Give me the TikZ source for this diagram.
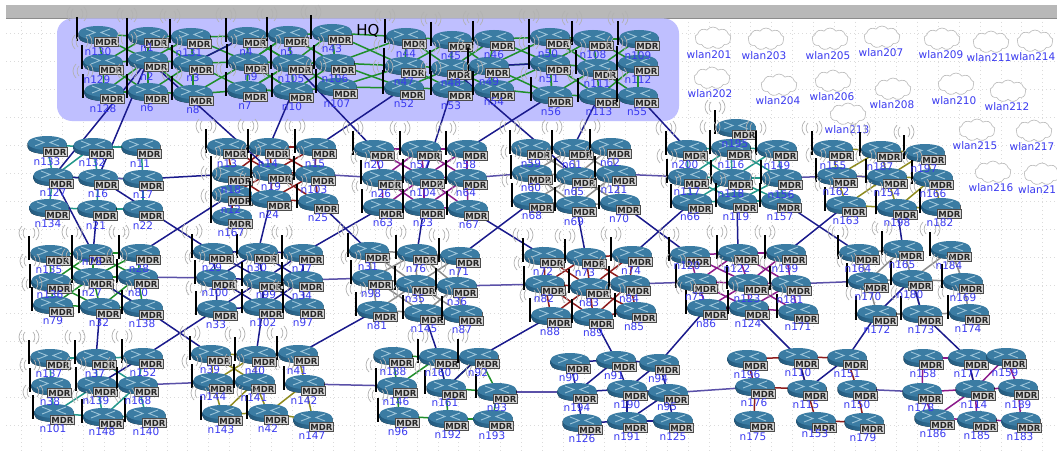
\documentclass[tikz,border=0pt]{standalone}
\usepackage{fontspec}
\setmainfont{DejaVu Sans}
\usetikzlibrary{shapes.symbols}
\pgfdeclarelayer{base}\pgfdeclarelayer{links}\pgfdeclarelayer{labels}
\pgfsetlayers{base,links,main,labels}
\definecolor{rtop}{HTML}{3B7CA3}
\definecolor{rleft}{HTML}{245A7E}
\definecolor{rright}{HTML}{3F86AC}
\definecolor{rglyph}{HTML}{9CC4D8}
\definecolor{cGreen}{HTML}{1F8F2A}
\definecolor{cTeal}{HTML}{23988A}
\definecolor{cRed}{HTML}{8E1C1C}
\definecolor{cPurple}{HTML}{8B1A8B}
\definecolor{cGray}{HTML}{8C8C8C}
\definecolor{cOlive}{HTML}{8E8A1E}
\definecolor{cNavy}{HTML}{1A1A8C}
\definecolor{cBack}{HTML}{5A50A8}
\definecolor{lblue}{HTML}{3A3AF0}
\tikzset{
  x=1pt,y=-1pt,
  hit/.style={inner sep=0pt,minimum width=30pt,minimum height=10pt},
  mdrbox/.style={draw=black!70,line width=.5pt,fill=black!17,inner sep=0pt,minimum width=24pt,minimum height=9pt,font=\fontsize{8.5}{8.5}\selectfont\bfseries,text=black!85},
  nlabel/.style={inner sep=0pt,text=lblue,font=\fontsize{10.5}{10.5}\selectfont},
  lk/.style={draw=#1,line width=1.5pt},
  wl/.style={cloud,cloud puffs=9,cloud puff arc=110,aspect=1.6,draw=black!28,fill=white,line width=.6pt,inner sep=0pt,minimum width=36pt,minimum height=22pt},
}
\newcommand\ricon[2]{\begin{scope}[shift={(#1,#2)}]
    \fill[left color=rleft,right color=rright] (-19.5,-2) -- (-19.5,2) .. controls (-19.5,11.3) and (19.5,11.3) .. (19.5,2) -- (19.5,-2) -- cycle;
    \fill[rtop] (0,-2) ellipse [x radius=19.5pt,y radius=7pt];
    \draw[rglyph,line width=.9pt] (-12,-6) -- (-3,-2.5) -- (-12,1) (12,-6) -- (3,-2.5) -- (12,1);
\end{scope}}
\newcommand\rmast[2]{\begin{scope}[shift={(#1,#2)}]
    \draw[black!30,line width=.7pt] (-4,-1) .. controls (-6.5,-3.5) and (-6.5,-8.5) .. (-4,-11)
      (-7,1) .. controls (-11,-3) and (-11,-9) .. (-7,-13)
      (4,-1) .. controls (6.5,-3.5) and (6.5,-8.5) .. (4,-11)
      (7,1) .. controls (11,-3) and (11,-9) .. (7,-13);
    \draw[black,line width=2.4pt] (0,-3) -- (0,21);
\end{scope}}
\newcommand\R[5]{%
  \ricon{#2}{#3}
  \node[hit] (#1) at (#2,#3) {};
  \node[mdrbox] (#1m) at (#2+8.5,#3+7) {MDR};
  \begin{pgfonlayer}{labels}\node[nlabel] (#1l) at (#4,#5) {#1};\end{pgfonlayer}
}
\newcommand\A[5]{%
  \rmast{#2-21}{#3-15}
  \R{#1}{#2}{#3}{#4}{#5}
}
\newcommand\W[5]{%
  \node[wl] (#1) at (#2,#3) {};
  \node[nlabel] (#1l) at (#4,#5) {#1};
}
\newcommand\G[1]{\def\lkc{#1}\Gx}
\newcommand\Gx[9]{\foreach \pa/\pb in {#1/#2,#2/#3,#4/#5,#5/#6,#7/#8,#8/#9,#1/#4,#4/#7,#2/#5,#5/#8,#3/#6,#6/#9,#1/#5,#2/#4,#2/#6,#3/#5,#4/#8,#5/#7,#5/#9,#6/#8}{\draw[lk=\lkc] (\pa) -- (\pb);}}
\newcommand\Lk[2]{\foreach \pa/\pb in {#2}{\draw[lk=#1] (\pa) -- (\pb);}}
\begin{document}
\begin{tikzpicture}
\useasboundingbox (0,0) rectangle (1057,452);
\begin{pgfonlayer}{base}
  \fill[white] (0,0) rectangle (1057,452);
  \foreach \k in {0.5,1,...,25}{\draw[black!14,line width=.5pt,dash pattern=on 1pt off 3pt] (41.7*\k,18) -- (41.7*\k,452);}
  \foreach \k in {0,...,15}{\draw[black!14,line width=.5pt,dash pattern=on 1pt off 3pt] (6,33+28*\k) -- (1057,33+28*\k);}
  \fill[black!28] (6,5) rectangle (1057,18);
  \draw[black!45,line width=.7pt] (6,18) -- (1057,18);
  \fill[blue!25!white,rounded corners=15pt] (57,18.5) rectangle (679,121);
\end{pgfonlayer}
\node[inner sep=0pt,text=black,font=\fontsize{15}{15}\selectfont] (hq) at (368,31) {HQ};
% clouds
\W{wlan201}{713}{38}{709}{55}
\W{wlan203}{766}{39}{764}{56}
\W{wlan205}{830}{39}{828}{56}
\W{wlan207}{882}{37}{881}{53}
\W{wlan209}{942}{39}{941}{55}
\W{wlan211}{991}{42}{989}{58}
\W{wlan214}{1035}{41}{1033}{57}
\W{wlan202}{712}{78}{710}{94}
\W{wlan204}{779}{85}{778}{101}
\W{wlan206}{833}{81}{832}{97}
\W{wlan208}{893}{89}{892}{105}
\W{wlan210}{956}{84}{954}{101}
\W{wlan212}{1008}{91}{1007}{107}
\W{wlan213}{848}{114}{847}{130}
\W{wlan215}{977}{130}{975}{146}
\W{wlan217}{1034}{131}{1032}{147}
\W{wlan216}{993}{172}{991}{188}
\node[wl] (wlan218) at (1042,174) {};
\node[nlabel,anchor=west] (wlan218l) at (1018,190) {wlan21};
% HQ
\A{n130}{98}{35}{98}{52}\A{n1}{148}{36}{147}{48}\A{n131}{191}{37}{189}{53}\A{n4}{247}{36}{246}{52}\A{n5}{288}{35}{287}{52}\A{n43}{332}{33}{332}{49}
\A{n44}{406}{37}{406}{54}\A{n45}{452}{40}{451}{56}\A{n46}{494}{39}{494}{55}\A{n50}{550}{37}{548}{54}\A{n108}{593}{39}{593}{55}\A{n109}{639}{39}{638}{56}
\A{n129}{103}{63}{97}{80}\A{n2}{148}{60}{147}{77}\A{n3}{193}{63}{193}{78}\A{n9}{248}{62}{251}{77}\A{n105}{292}{63}{291}{79}\A{n106}{335}{63}{335}{79}
\A{n47}{405}{66}{404}{82}\A{n48}{451}{68}{451}{83}\A{n49}{489}{66}{489}{82}\A{n51}{550}{63}{549}{79}\A{n111}{597}{68}{597}{84}\A{n112}{638}{64}{638}{80}
\A{n128}{104}{92}{103}{109}\A{n6}{148}{92}{147}{108}\A{n8}{193}{94}{193}{110}\A{n7}{247}{90}{245}{106}\A{n10}{293}{91}{292}{107}\A{n107}{337}{87}{337}{104}
\A{n52}{404}{88}{404}{104}\A{n53}{452}{89}{451}{106}\A{n54}{494}{89}{494}{102}\A{n56}{552}{95}{551}{112}\A{n113}{599}{96}{599}{112}\A{n55}{638}{96}{637}{112}
% row 2
\R{n133}{47}{145}{47}{162}\R{n132}{93}{147}{92}{163}\R{n11}{141}{147}{140}{164}
\R{n127}{53}{177}{53}{193}\R{n16}{98}{178}{98}{194}\R{n17}{143}{179}{143}{195}
\R{n134}{49}{208}{48}{224}\R{n21}{97}{209}{96}{226}\R{n22}{143}{209}{143}{226}
\A{n13}{227}{147}{227}{164}\A{n14}{269}{147}{268}{164}\A{n15}{316}{147}{315}{164}
\A{n18}{232}{174}{231}{190}\A{n19}{272}{172}{271}{187}\A{n103}{315}{174}{314}{190}
\A{n12}{232}{194}{231}{210}\A{n24}{271}{199}{269}{215}\A{n25}{318}{202}{318}{218}
\A{n167}{232}{217}{231}{233}
\A{n20}{374}{149}{374}{165}\A{n57}{421}{149}{420}{165}\A{n58}{467}{149}{466}{165}
\A{n26}{382}{178}{381}{194}\A{n104}{424}{177}{423}{193}\A{n64}{467}{178}{466}{193}
\A{n63}{383}{207}{383}{223}\A{n23}{424}{207}{423}{223}\A{n67}{468}{209}{469}{225}
\A{n59}{531}{148}{531}{164}\A{n61}{573}{148}{572}{165}\A{n62}{611}{147}{610}{163}
\A{n60}{532}{173}{531}{188}\A{n65}{576}{176}{574}{192}\A{n121}{616}{174}{614}{190}
\A{n68}{533}{201}{532}{216}\A{n69}{576}{205}{574}{222}\A{n70}{620}{203}{619}{219}
\A{n200}{687}{149}{685}{165}\A{n195}{736}{128}{735}{144}\A{n116}{731}{148}{731}{165}\A{n149}{777}{149}{777}{166}
\A{n117}{688}{177}{687}{192}\A{n118}{732}{178}{731}{194}\A{n156}{782}{178}{781}{195}
\A{n66}{692}{202}{690}{217}\A{n119}{737}{201}{736}{217}\A{n157}{781}{201}{780}{217}
\A{n155}{833}{149}{833}{166}\A{n187}{881}{150}{880}{167}\A{n197}{925}{153}{924}{169}
\A{n162}{837}{176}{836}{192}\A{n154}{887}{177}{887}{193}\A{n166}{933}{178}{933}{194}
\A{n163}{846}{205}{846}{221}\A{n198}{897}{208}{897}{223}\A{n182}{941}{207}{940}{223}
% row 3
\A{n135}{50}{254}{49}{270}\A{n78}{93}{253}{92}{262}\A{n28}{140}{253}{139}{269}
\A{n136}{51}{282}{50}{295}\A{n27}{93}{277}{92}{293}\A{n80}{138}{277}{138}{293}
\A{n79}{53}{305}{53}{321}\A{n32}{100}{307}{99}{323}\A{n138}{143}{308}{142}{324}
\A{n29}{213}{252}{212}{268}\A{n30}{258}{252}{257}{268}\A{n77}{303}{253}{302}{269}
\A{n100}{216}{278}{215}{293}\A{n99}{263}{280}{266}{295}\A{n34}{303}{280}{302}{296}
\A{n33}{217}{309}{216}{325}\A{n102}{263}{307}{263}{323}\A{n97}{304}{307}{303}{323}
\A{n31}{369}{251}{368}{267}\A{n76}{417}{253}{416}{269}\A{n71}{460}{256}{459}{272}
\A{n98}{372}{278}{371}{294}\A{n35}{416}{284}{415}{299}\A{n36}{457}{286}{457}{302}
\A{n81}{377}{310}{377}{326}\A{n145}{424}{313}{424}{329}\A{n87}{463}{314}{462}{330}
\A{n72}{544}{256}{543}{272}\A{n73}{586}{257}{585}{273}\A{n74}{632}{255}{631}{271}
\A{n82}{545}{284}{544}{299}\A{n83}{590}{287}{589}{303}\A{n84}{630}{284}{629}{299}
\A{n88}{551}{316}{550}{332}\A{n89}{593}{317}{593}{333}\A{n85}{636}{311}{634}{327}
\A{n120}{690}{255}{687}{266}\A{n122}{738}{253}{737}{269}\A{n199}{786}{253}{785}{269}
\A{n75}{697}{282}{695}{297}\A{n123}{748}{283}{747}{299}\A{n181}{791}{284}{790}{300}
\A{n86}{707}{308}{706}{324}\A{n124}{749}{308}{748}{324}\A{n171}{798}{312}{798}{327}
\A{n164}{859}{253}{858}{269}\A{n165}{903}{249}{902}{265}\A{n184}{951}{250}{949}{266}
\A{n170}{868}{281}{868}{297}\A{n180}{912}{279}{910}{295}\A{n169}{963}{282}{963}{298}
\A{n172}{877}{314}{877}{330}\A{n173}{922}{314}{921}{330}\A{n174}{969}{313}{968}{329}
% row 4
\A{n137}{50}{358}{49}{374}\A{n37}{96}{358}{95}{374}\A{n152}{143}{357}{143}{373}
\A{n38}{51}{386}{50}{402}\A{n139}{97}{385}{96}{401}\A{n168}{138}{385}{138}{401}
\A{n101}{54}{413}{53}{429}\A{n148}{103}{417}{102}{432}\A{n140}{146}{416}{146}{432}
\A{n39}{211}{354}{210}{370}\A{n40}{256}{355}{255}{371}\A{n41}{298}{354}{297}{371}
\A{n144}{213}{382}{213}{397}\A{n141}{255}{382}{254}{398}\A{n142}{305}{384}{304}{401}
\A{n143}{222}{414}{221}{430}\A{n42}{268}{413}{268}{429}\R{n147}{313}{420}{312}{436}
\R{n188}{393}{356}{393}{372}\A{n160}{439}{357}{438}{373}\A{n92}{479}{357}{478}{373}
\A{n146}{397}{386}{396}{402}\A{n161}{446}{388}{445}{403}\A{n93}{497}{392}{497}{408}
\A{n96}{399}{416}{398}{432}\R{n192}{448}{419}{448}{435}\R{n193}{493}{419}{492}{436}
\R{n90}{570}{362}{569}{378}\R{n91}{616}{360}{614}{376}\R{n94}{659}{363}{658}{379}
\R{n194}{577}{392}{577}{408}\R{n190}{627}{389}{627}{405}\R{n95}{668}{393}{667}{407}
\R{n126}{582}{423}{582}{439}\R{n191}{627}{421}{627}{437}\R{n125}{673}{421}{673}{437}
\R{n196}{747}{359}{747}{375}\R{n110}{798}{357}{798}{373}\R{n151}{847}{358}{847}{374}
\R{n176}{755}{387}{754}{403}\R{n115}{807}{389}{806}{405}\R{n150}{857}{389}{857}{405}
\R{n175}{754}{420}{753}{437}\R{n153}{816}{421}{815}{434}\R{n179}{864}{422}{863}{438}
\R{n158}{923}{358}{923}{374}\R{n177}{968}{358}{967}{374}\R{n159}{1006}{357}{1005}{373}
\R{n178}{922}{392}{921}{408}\R{n114}{975}{389}{974}{405}\R{n189}{1018}{388}{1018}{405}
\R{n186}{934}{418}{933}{434}\R{n185}{977}{420}{977}{436}\R{n183}{1021}{421}{1020}{437}
% connectors
\begin{pgfonlayer}{links}
\G{cGreen}{n130}{n1}{n131}{n129}{n2}{n3}{n128}{n6}{n8}
\G{cGreen}{n131}{n4}{n5}{n3}{n9}{n105}{n8}{n7}{n10}
\G{cGreen}{n4}{n5}{n43}{n9}{n105}{n106}{n7}{n10}{n107}
\G{cGreen}{n43}{n44}{n45}{n106}{n47}{n48}{n107}{n52}{n53}
\G{cGreen}{n45}{n46}{n50}{n48}{n49}{n51}{n53}{n54}{n56}
\G{cGreen}{n50}{n108}{n109}{n51}{n111}{n112}{n56}{n113}{n55}
\Lk{cTeal}{n133/n132,n132/n11,n127/n16,n16/n17,n134/n21,n21/n22,n133/n127,n127/n134,n132/n16,n16/n21,n11/n17,n17/n22,n127/n132}
\G{cRed}{n13}{n14}{n15}{n18}{n19}{n103}{n12}{n24}{n25}
\G{cPurple}{n20}{n57}{n58}{n26}{n104}{n64}{n63}{n23}{n67}
\G{cGray}{n59}{n61}{n62}{n60}{n65}{n121}{n68}{n69}{n70}
\G{cTeal}{n200}{n116}{n149}{n117}{n118}{n156}{n66}{n119}{n157}
\Lk{cOlive}{n155/n187,n187/n197,n155/n162,n162/n187,n187/n154,n197/n154,n197/n166,n162/n163,n163/n154,n163/n198,n154/n198,n198/n166,n198/n182,n166/n182,n162/n154,n154/n166}
\G{cGreen}{n135}{n78}{n28}{n136}{n27}{n80}{n79}{n32}{n138}
\G{cNavy}{n29}{n30}{n77}{n100}{n99}{n34}{n33}{n102}{n97}
\G{cGray}{n31}{n76}{n71}{n98}{n35}{n36}{n81}{n145}{n87}
\G{cRed}{n72}{n73}{n74}{n82}{n83}{n84}{n88}{n89}{n85}
\G{cPurple}{n120}{n122}{n199}{n75}{n123}{n181}{n86}{n124}{n171}
\Lk{cGray}{n164/n165,n164/n170,n170/n165,n165/n180,n184/n180,n184/n169,n180/n169,n180/n173,n169/n174,n172/n173,n173/n174,n170/n172,n170/n180}
\Lk{cTeal}{n137/n37,n37/n152,n137/n38,n38/n101,n37/n139,n139/n148,n168/n140,n101/n148,n148/n140,n139/n101,n148/n168,n37/n168,n152/n168,n139/n168}
\Lk{cOlive}{n39/n40,n39/n144,n40/n141,n41/n142,n144/n141,n144/n143,n141/n143,n141/n42,n142/n42,n142/n147,n143/n42,n42/n147,n39/n141,n40/n144,n40/n41}
\Lk{cGreen}{n188/n160,n188/n146,n146/n160,n160/n161,n92/n161,n92/n93,n146/n96,n161/n192,n93/n193,n96/n192,n192/n193,n161/n93,n160/n92}
\Lk{cNavy}{n90/n91,n91/n94,n90/n194,n91/n190,n94/n190,n94/n95,n194/n190,n190/n95,n194/n126,n190/n191,n95/n125,n126/n191,n191/n125,n191/n95,n194/n91}
\Lk{cRed}{n196/n110,n110/n151,n196/n176,n110/n115,n151/n150,n176/n175,n115/n153,n150/n179,n153/n179,n176/n115}
\Lk{cPurple}{n158/n177,n158/n178,n177/n114,n159/n114,n159/n189,n177/n159,n114/n185,n189/n183,n178/n186,n114/n186,n186/n185,n185/n183,n178/n114,n114/n189}
\Lk{cRed}{n12/n167}
\Lk{cTeal}{n195/n116}
\Lk{cNavy}{n2/n127,n2/n16,n2/n19,n10/n14,n52/n15,n105/n20,n53/n104,n56/n58,n48/n65,n113/n61,n55/n200,n3/n4,n49/n51,
  n17/n18,n127/n16,n16/n29,n127/n78,n21/n78,n12/n28,n24/n30,n25/n31,n63/n77,n27/n138,n138/n39,n33/n152,n32/n37,n102/n40,n81/n41,
  n145/n160,n88/n92,n89/n91,n86/n94,n69/n73,n67/n72,n68/n71,n23/n76,n70/n120,n74/n66,n119/n122,n157/n164,n163/n199,n198/n165,
  n124/n110,n172/n151,n173/n177,n180/n172,n180/n173,n110/n115,n115/n151,n177/n114,n92/n161,n160/n161,n152/n139}
\Lk{cBack}{n103/n26,n64/n60,n121/n117,n156/n162,n162/n154,n80/n100,n34/n98,n36/n82,n84/n75,n181/n170,n168/n144,n142/n146,n93/n194,n95/n176,n150/n178,n16/n17}
\end{pgfonlayer}
\end{tikzpicture}
\end{document}
